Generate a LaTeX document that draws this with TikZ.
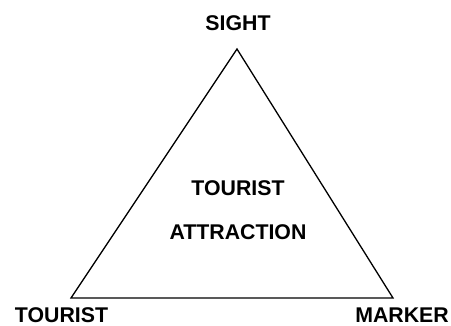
\documentclass[tikz,border=0pt]{standalone}
\usepackage{fontspec}
\setmainfont{Liberation Sans}
\begin{document}
\begin{tikzpicture}[x=1pt,y=-1pt,
  lbl/.style={font=\bfseries\fontsize{21.3}{25}\selectfont, inner sep=0pt, anchor=base},
  edge/.style={draw, line width=1.3pt, line join=miter}]
\useasboundingbox (0,0) rectangle (451,325);
\coordinate (apex) at (237,49);
\coordinate (bl) at (71,298);
\coordinate (br) at (393,298);
\draw[edge] (apex) -- (bl) -- (br) -- cycle;
\node[lbl] (sight) at (238,30) {SIGHT};
\node[lbl] (tourist) at (61.5,322) {TOURIST};
\node[lbl] (marker) at (402,322) {MARKER};
\node[lbl] (t1) at (238,195) {TOURIST};
\node[lbl] (t2) at (238,239) {ATTRACTION};
\end{tikzpicture}
\end{document}
